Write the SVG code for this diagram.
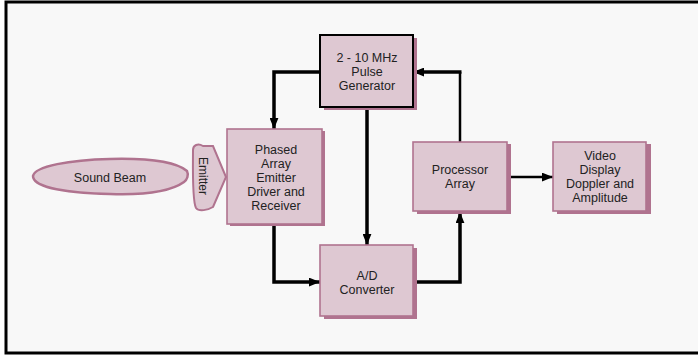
<svg xmlns="http://www.w3.org/2000/svg" width="698" height="356" viewBox="0 0 698 356">
<defs>
<style>
.box{fill:#dec8d2;stroke:#b0738f;stroke-width:1.6}
.boxk{fill:#dec8d2;stroke:#000;stroke-width:2}
.sh{fill:#b0738f}
.t{font-family:"Liberation Sans",Arial,sans-serif;font-size:12.5px;fill:#222;text-anchor:middle}
.c{fill:none;stroke:#000;stroke-width:3.5}
.c2{fill:none;stroke:#000;stroke-width:2.5}
</style>
<marker id="ah" viewBox="0 0 10 8" refX="10" refY="4" markerWidth="11" markerHeight="9" markerUnits="userSpaceOnUse" orient="auto">
<path d="M0,0 L10,4 L0,8 Z" fill="#000"/>
</marker>
</defs>
<rect x="0" y="0" width="698" height="356" fill="#fff"/>
<path d="M6,353 V2 H698 M6,353 H698" fill="#f8f8f8" stroke="none"/>
<rect x="6" y="2" width="700" height="351" fill="#f8f8f8" stroke="#000" stroke-width="3"/>

<g id="connectors">
<path class="c" d="M320,72 H274 V129" marker-end="url(#ah)"/>
<path class="c2" d="M460,142 V72"/>
<path class="c" d="M461.5,72 H413" marker-end="url(#ah)"/>
<path class="c" d="M367,109 V245" marker-end="url(#ah)"/>
<path class="c" d="M274,225 V282 H320" marker-end="url(#ah)"/>
<path class="c" d="M413,282 H460 V212" marker-end="url(#ah)"/>
<path class="c2" d="M507,177 H553" marker-end="url(#ah)"/>
</g>

<g id="sound-beam">
<path d="M33,176 C35,166 70,160 110,159 C150,158 176,162 187,171 C189,175 187,180 184,182 C170,192 140,195 110,194 C70,193 33,188 33,176 Z" fill="#dec8d2" stroke="#b0738f" stroke-width="2.5"/>
<text class="t" x="110" y="182">Sound Beam</text>
</g>

<g id="emitter">
<path d="M193,150 C193,145 198,143 203,146 L213,146 L226,177 L213,207 C208,210 199,212 196,208 C192,200 193,162 193,150 Z" fill="#dec8d2" stroke="#b0738f" stroke-width="2"/>
<text class="t" style="font-size:12px" transform="translate(199,176) rotate(90)" x="0" y="0">Emitter</text>
</g>

<g id="phased-array">
<rect class="sh" x="230" y="131" width="95" height="95"/>
<rect class="box" x="227" y="129" width="95" height="95"/>
<text class="t" x="276" y="154">Phased</text>
<text class="t" x="276" y="168">Array</text>
<text class="t" x="276" y="182">Emitter</text>
<text class="t" x="276" y="196">Driver and</text>
<text class="t" x="276" y="210">Receiver</text>
</g>

<g id="pulse-generator">
<rect class="sh" x="324" y="38" width="93" height="72"/>
<rect class="boxk" x="320" y="35" width="93" height="72"/>
<text class="t" x="367" y="62">2 - 10 MHz</text>
<text class="t" x="367" y="76">Pulse</text>
<text class="t" x="367" y="90">Generator</text>
</g>

<g id="ad-converter">
<rect class="sh" x="324" y="248" width="93" height="71"/>
<rect class="box" x="320" y="245" width="93" height="71"/>
<text class="t" x="367" y="280">A/D</text>
<text class="t" x="367" y="294">Converter</text>
</g>

<g id="processor-array">
<rect class="sh" x="417" y="144" width="94" height="70"/>
<rect class="box" x="413" y="142" width="94" height="69"/>
<text class="t" x="460" y="174">Processor</text>
<text class="t" x="460" y="188">Array</text>
</g>

<g id="video-display">
<rect class="sh" x="557" y="144" width="94" height="70"/>
<rect class="box" x="553" y="142" width="93" height="69"/>
<text class="t" x="600" y="160">Video</text>
<text class="t" x="600" y="174">Display</text>
<text class="t" x="600" y="188">Doppler and</text>
<text class="t" x="600" y="202">Amplitude</text>
</g>
</svg>
